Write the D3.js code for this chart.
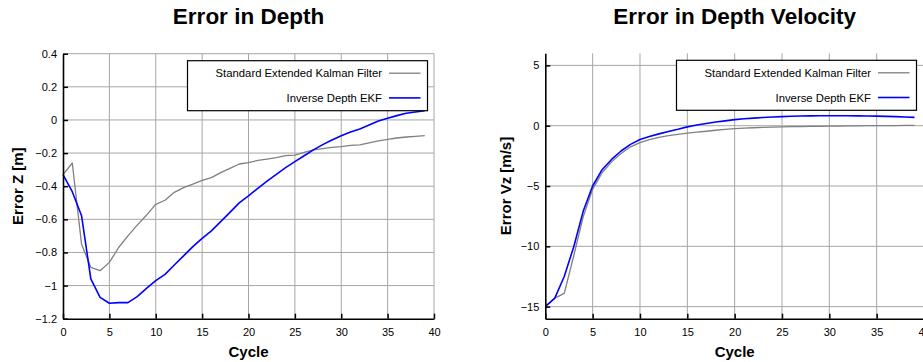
<!DOCTYPE html>
<html>
<head>
<meta charset="utf-8">
<script src="https://cdn.jsdelivr.net/npm/d3@7"></script>
<style>
  body { margin: 0; background: #fff; }
  svg { display: block; font-family: Arial, "Liberation Sans", sans-serif; }
</style>
</head>
<body>
<svg id="chart" width="923" height="362"></svg>
<script>
// cycles 0..39
var cycles = d3.range(0, 40);

// Error in Depth [m]
var depthStdEKF = [-0.33, -0.26, -0.75, -0.89, -0.91, -0.86, -0.77, -0.70, -0.635, -0.575,
    -0.51, -0.485, -0.437, -0.409, -0.387, -0.365, -0.348, -0.318, -0.292, -0.266,
    -0.258, -0.244, -0.236, -0.228, -0.216, -0.212, -0.196, -0.181, -0.173, -0.165,
    -0.161, -0.153, -0.151, -0.139, -0.127, -0.117, -0.109, -0.103, -0.099, -0.095];
var depthInvEKF = [-0.33, -0.433, -0.578, -0.96, -1.071, -1.107, -1.103, -1.103, -1.067, -1.017,
    -0.97, -0.932, -0.876, -0.821, -0.765, -0.715, -0.67, -0.614, -0.558, -0.501,
    -0.459, -0.413, -0.369, -0.328, -0.288, -0.252, -0.216, -0.181, -0.149, -0.121,
    -0.095, -0.073, -0.055, -0.031, -0.006, 0.010, 0.026, 0.040, 0.048, 0.056];

// Error in Depth Velocity [m/s]
var velStdEKF = [-15, -14.3, -13.9, -10.8, -7.55, -5.28, -3.9, -3.0, -2.3, -1.75,
    -1.4, -1.15, -0.97, -0.83, -0.72, -0.62, -0.54, -0.46, -0.38, -0.3,
    -0.24, -0.2, -0.17, -0.14, -0.12, -0.1, -0.08, -0.07, -0.06, -0.05,
    -0.04, -0.03, -0.02, -0.01, 0, 0, 0.01, 0.01, 0.02, 0.02];
var velInvEKF = [-15, -14.3, -12.5, -10.05, -7.1, -5.0, -3.65, -2.8, -2.1, -1.55,
    -1.15, -0.9, -0.68, -0.48, -0.3, -0.1, 0.05, 0.18, 0.3, 0.4,
    0.5, 0.57, 0.63, 0.68, 0.72, 0.75, 0.78, 0.8, 0.81, 0.82,
    0.82, 0.82, 0.82, 0.81, 0.8, 0.79, 0.77, 0.75, 0.72, 0.69];

var legendNames = ["Standard Extended Kalman Filter", "Inverse Depth EKF"];
var seriesColors = ["#808080", "#0000ff"];

var xTicks = [0, 5, 10, 15, 20, 25, 30, 35, 40];
var depthTicks = [-1.2, -1, -0.8, -0.6, -0.4, -0.2, 0, 0.2, 0.4];
var velTicks = [-15, -10, -5, 0, 5];

function fmt(d) {
    return String(+d.toFixed(2)).replace("-", "\u2212");
}

var svg = d3.select("#chart");

drawPanel({
    left: 63, right: 434, top: 53.7, bottom: 318.7,
    yDomain: [-1.2, 0.4], yTicks: depthTicks,
    title: "Error in Depth", yLabel: "Error Z [m]", yLabelX: 17.5,
    series: [depthStdEKF, depthInvEKF]
});

drawPanel({
    left: 545.3, right: 924, top: 53.3, bottom: 318.7,
    yDomain: [-16, 6], yTicks: velTicks,
    title: "Error in Depth Velocity", yLabel: "Error Vz [m/s]", yLabelX: 506,
    series: [velStdEKF, velInvEKF]
});

function drawPanel(p) {
    var x = d3.scaleLinear().domain([0, 40]).range([p.left, p.right]);
    var y = d3.scaleLinear().domain(p.yDomain).range([p.bottom, p.top]);
    var g = svg.append("g");

    // grid
    g.append("g").selectAll("line")
        .data(xTicks.filter(function(d) { return d > 0; })).enter()
        .append("line")
        .attr("x1", function(d) { return x(d); })
        .attr("x2", function(d) { return x(d); })
        .attr("y1", p.top).attr("y2", p.bottom)
        .attr("stroke", "#a6a6a6").attr("stroke-width", 1);
    g.append("g").selectAll("line")
        .data(p.yTicks.filter(function(d) { return d > p.yDomain[0]; })).enter()
        .append("line")
        .attr("x1", p.left).attr("x2", p.right)
        .attr("y1", function(d) { return y(d); })
        .attr("y2", function(d) { return y(d); })
        .attr("stroke", "#a6a6a6").attr("stroke-width", 1);

    // series
    var line = d3.line()
        .x(function(d, i) { return x(cycles[i]); })
        .y(function(d) { return y(d); });
    p.series.forEach(function(s, i) {
        g.append("path")
            .attr("d", line(s))
            .attr("fill", "none")
            .attr("stroke", seriesColors[i])
            .attr("stroke-width", i == 1 ? 1.6 : 1.3)
            .attr("stroke-linejoin", "round");
    });

    // axes
    var xAxis = d3.axisBottom(x).tickValues(xTicks).tickFormat(fmt)
        .tickSizeInner(-5).tickSizeOuter(0).tickPadding(10);
    var yAxis = d3.axisLeft(y).tickValues(p.yTicks).tickFormat(fmt)
        .tickSizeInner(-5).tickSizeOuter(0).tickPadding(6);

    var gx = g.append("g")
        .attr("transform", "translate(0," + p.bottom + ")")
        .call(xAxis);
    var gy = g.append("g")
        .attr("transform", "translate(" + p.left + ",0)")
        .call(yAxis);
    [gx, gy].forEach(function(a) {
        a.select(".domain").attr("stroke", "#000").attr("stroke-width", 1.6);
        a.selectAll(".tick line").attr("stroke", "#000").attr("stroke-width", 1.5);
        a.selectAll("text").attr("font-size", "11px").attr("fill", "#000")
            .attr("font-family", "Arial, 'Liberation Sans', sans-serif");
    });

    // titles
    g.append("text")
        .attr("x", (p.left + p.right) / 2).attr("y", 23.5)
        .attr("text-anchor", "middle")
        .attr("font-size", "22.5px").attr("font-weight", "bold")
        .text(p.title);
    g.append("text")
        .attr("x", (p.left + p.right) / 2).attr("y", 357)
        .attr("text-anchor", "middle")
        .attr("font-size", "15px").attr("font-weight", "bold")
        .text("Cycle");
    g.append("text")
        .attr("transform", "translate(" + (p.yLabelX + 5) + "," + ((p.top + p.bottom) / 2) + ") rotate(-90)")
        .attr("text-anchor", "middle")
        .attr("font-size", "15px").attr("font-weight", "bold")
        .text(p.yLabel);

    // legend
    var lr = Math.min(p.right, 923) - 6.5;
    var lx = lr - 240, ly = p.top + 7;
    var lg = g.append("g");
    lg.append("rect")
        .attr("x", lx).attr("y", ly).attr("width", 240).attr("height", 50)
        .attr("fill", "#fff").attr("stroke", "#000").attr("stroke-width", 1.2);
    legendNames.forEach(function(name, i) {
        var cy = ly + 12.5 + i * 24.7;
        lg.append("text")
            .attr("x", lr - 45.5).attr("y", cy + 4)
            .attr("text-anchor", "end")
            .attr("font-size", "11.3px")
            .text(name);
        lg.append("line")
            .attr("x1", lr - 38.5).attr("x2", lr - 7)
            .attr("y1", cy).attr("y2", cy)
            .attr("stroke", seriesColors[i])
            .attr("stroke-width", i == 1 ? 1.6 : 1.3);
    });
}
</script>
</body>
</html>
